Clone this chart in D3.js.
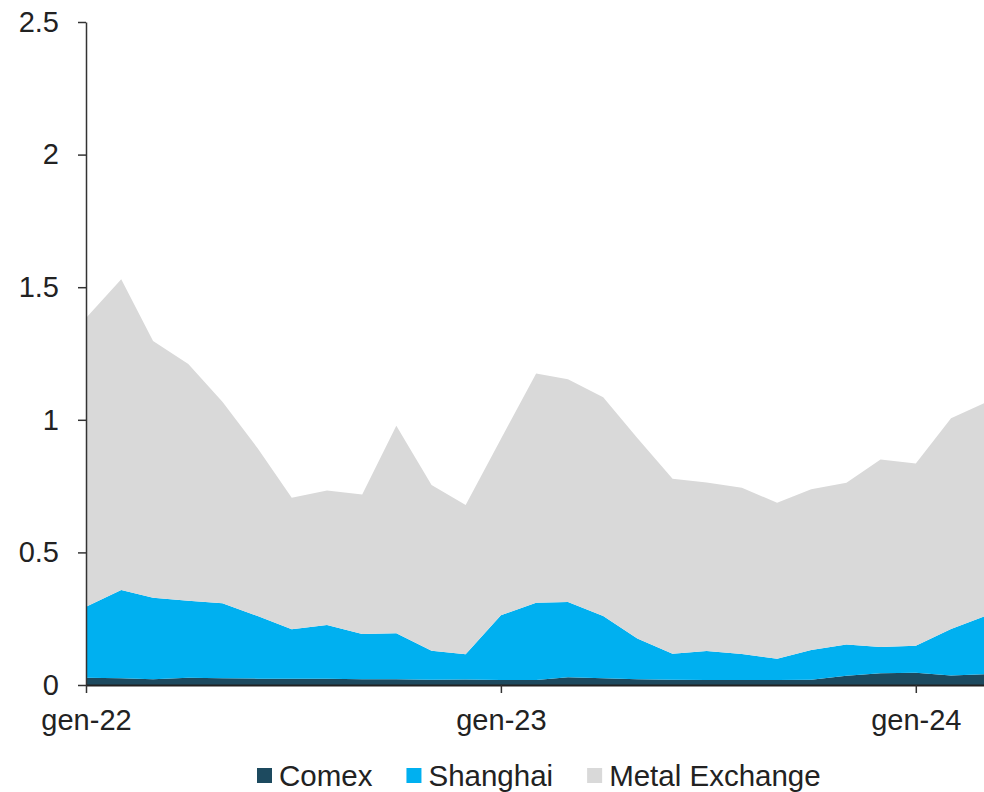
<!DOCTYPE html>
<html>
<head>
<meta charset="utf-8">
<script src="https://cdn.jsdelivr.net/npm/d3@7"></script>
<style>
  body { margin: 0; background: #fff; }
  svg text { font-family: "Liberation Sans", Arial, sans-serif; fill: #222; }
</style>
</head>
<body>
<div id="chart"></div>
<script>
// monthly points, gen-22 .. mar-24
var months = ["2022-01","2022-02","2022-03","2022-04","2022-05","2022-06","2022-07","2022-08","2022-09",
              "2022-10","2022-11","2022-12","2023-01","2023-02","2023-03","2023-04","2023-05","2023-06",
              "2023-07","2023-08","2023-09","2023-10","2023-11","2023-12","2024-01","2024-02","2024-03"];

var comex = [0.027,0.025,0.022,0.027,0.025,0.024,0.024,0.024,0.022,0.022,0.020,0.021,0.019,0.019,
             0.029,0.025,0.022,0.020,0.019,0.019,0.019,0.020,0.035,0.044,0.046,0.036,0.041];

var shanghai = [0.268,0.333,0.307,0.291,0.283,0.236,0.186,0.202,0.170,0.173,0.109,0.095,0.244,0.291,
                0.284,0.235,0.153,0.098,0.109,0.098,0.080,0.112,0.118,0.099,0.102,0.175,0.217];

var metalExchange = [1.089,1.172,0.968,0.892,0.760,0.633,0.496,0.507,0.526,0.783,0.625,0.563,0.665,0.865,
                     0.840,0.825,0.756,0.660,0.636,0.627,0.588,0.606,0.610,0.707,0.687,0.795,0.804];

var seriesNames = ["Comex", "Shanghai", "Metal Exchange"];
var colors = ["#1d4a5f", "#00b0f0", "#d9d9d9"];
var yTicks = [0, 0.5, 1, 1.5, 2, 2.5];

var W = 984, H = 792;
var margin = {top: 22, right: 0, bottom: 107, left: 86};
var width = W - margin.left - margin.right,
    height = H - margin.top - margin.bottom;

var parseMonth = d3.timeParse("%Y-%m");
var itMonths = ["gen","feb","mar","apr","mag","giu","lug","ago","set","ott","nov","dic"];

var data = months.map(function(m, i) {
    return {date: parseMonth(m), "Comex": comex[i], "Shanghai": shanghai[i], "Metal Exchange": metalExchange[i]};
});

var x = d3.scaleTime()
    .domain(d3.extent(data, function(d) { return d.date; }))
    .range([0, width]);
var y = d3.scaleLinear().domain([0, 2.5]).range([height, 0]);

var stacked = d3.stack().keys(seriesNames)(data);

var area = d3.area()
    .x(function(d) { return x(d.data.date); })
    .y0(function(d) { return y(d[0]); })
    .y1(function(d) { return y(d[1]); });

var svg = d3.select("#chart").append("svg")
    .attr("width", W)
    .attr("height", H)
    .append("g")
    .attr("transform", "translate(" + margin.left + "," + margin.top + ")");

svg.selectAll("path.layer")
    .data(stacked)
    .enter().append("path")
    .attr("class", "layer")
    .attr("fill", function(d, i) { return colors[i]; })
    .attr("d", area);

// y axis
var yAxis = svg.append("g")
    .call(d3.axisLeft(y).tickValues(yTicks).tickFormat(d3.format("")).tickSize(8).tickSizeOuter(0).tickPadding(19));
yAxis.select(".domain").attr("stroke", "#333").attr("stroke-width", 1.5);
yAxis.selectAll(".tick line").attr("stroke", "#333").attr("stroke-width", 1.5);
yAxis.selectAll("text").style("font-size", "29px");

// x axis
var xAxis = svg.append("g")
    .attr("transform", "translate(0," + height + ")")
    .call(d3.axisBottom(x)
        .tickValues([parseMonth("2022-01"), parseMonth("2023-01"), parseMonth("2024-01")])
        .tickFormat(function(d) { return itMonths[d.getMonth()] + "-" + d3.timeFormat("%y")(d); })
        .tickSize(8).tickSizeOuter(0).tickPadding(16));
xAxis.select(".domain").attr("stroke", "#222").attr("stroke-width", 2);
xAxis.selectAll(".tick line").attr("stroke", "#333").attr("stroke-width", 1.5);
xAxis.selectAll("text").style("font-size", "29px");

// legend
var legend = d3.select("svg").append("g").attr("transform", "translate(257,768)");
var lx = 0;
seriesNames.forEach(function(name, i) {
    var g = legend.append("g").attr("transform", "translate(" + lx + ",0)");
    g.append("rect").attr("width", 15).attr("height", 15).attr("fill", colors[i]);
    var t = g.append("text").attr("x", 22).attr("y", 18).style("font-size", "29.5px").text(name);
    lx += 22 + t.node().getComputedTextLength() + 34;
});
</script>
</body>
</html>
